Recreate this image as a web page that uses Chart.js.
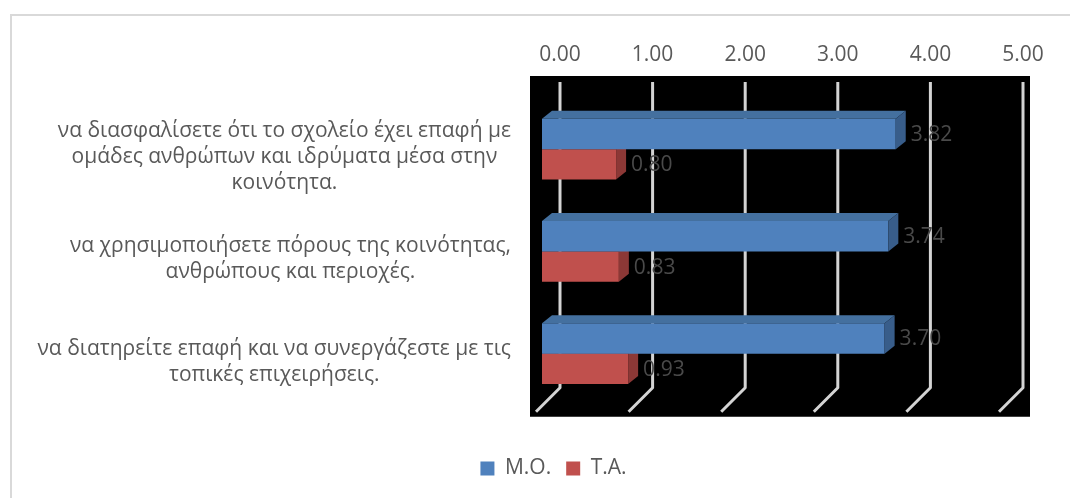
<!DOCTYPE html>
<html>
<head>
<meta charset="utf-8">
<script src="https://cdn.jsdelivr.net/npm/chart.js@4.4.0/dist/chart.umd.min.js"></script>
<style>
  html, body { margin: 0; padding: 0; background: #fff; overflow: hidden; }
  #frame { position: absolute; left: 10px; top: 14px; width: 1200px; height: 600px; border: 2px solid #d9d9d9; }
  #wrap { position: absolute; left: 0; top: 0; width: 1070px; height: 498px; }
</style>
</head>
<body>
<div id="frame"></div>
<div id="wrap"><canvas id="chart"></canvas></div>
<script>
// category labels (one array of lines per category)
const categories = [
    ['να διασφαλίσετε ότι το σχολείο έχει επαφή με', 'ομάδες ανθρώπων και ιδρύματα μέσα στην', 'κοινότητα.'],
    ['να χρησιμοποιήσετε πόρους της κοινότητας,', 'ανθρώπους και περιοχές.'],
    ['να διατηρείτε επαφή και να συνεργάζεστε με τις', 'τοπικές επιχειρήσεις.']
];
const seriesNames = ['Μ.Ο.', 'Τ.Α.'];
const meanValues = [3.82, 3.74, 3.70];
const sdValues = [0.80, 0.83, 0.93];
const xTicks = [0, 1, 2, 3, 4, 5];

const FONT = "'Open Sans', sans-serif";
const TEXT_COLOR = '#595959';
const DEPTH_X = 10, DEPTH_Y = 8;   // 3d bar depth
const WALL_X = 18;                 // back wall offset of the gridlines

const faceColors = [
    { front: '#4F81BD', top: '#44709F', side: '#385D8A' },
    { front: '#C0504D', top: '#A54442', side: '#8C3836' }
];

const bar3d = {
    id: 'bar3d',
    beforeDraw(chart) {
        // black plot area
        const a = chart.chartArea, ctx = chart.ctx;
        ctx.save();
        ctx.fillStyle = '#000';
        ctx.fillRect(a.left - 12, a.top - 22, a.right - a.left + 37, a.bottom - a.top + 34);
        ctx.restore();
    },
    beforeDatasetsDraw(chart) {
        // gridlines on the back wall with a little floor foot
        const a = chart.chartArea, ctx = chart.ctx, xs = chart.scales.x;
        ctx.save();
        ctx.strokeStyle = '#d4d4d4';
        ctx.lineWidth = 3;
        ctx.lineJoin = 'round';
        xTicks.forEach(v => {
            const px = xs.getPixelForValue(v) + WALL_X;
            ctx.beginPath();
            ctx.moveTo(px, a.top - 16);
            ctx.lineTo(px, a.bottom - 17);
            ctx.lineTo(px - 24, a.bottom + 7);
            ctx.stroke();
        });
        ctx.restore();
    },
    afterDatasetDraw(chart, args) {
        const ctx = chart.ctx;
        const col = faceColors[args.index];
        ctx.save();
        args.meta.data.forEach(el => {
            const p = el.getProps(['x', 'y', 'base', 'height'], true);
            const top = p.y - p.height / 2, bottom = p.y + p.height / 2;
            // top face
            ctx.fillStyle = col.top;
            ctx.beginPath();
            ctx.moveTo(p.base, top);
            ctx.lineTo(p.base + DEPTH_X, top - DEPTH_Y);
            ctx.lineTo(p.x + DEPTH_X, top - DEPTH_Y);
            ctx.lineTo(p.x, top);
            ctx.closePath();
            ctx.fill();
            // side face
            ctx.fillStyle = col.side;
            ctx.beginPath();
            ctx.moveTo(p.x, top);
            ctx.lineTo(p.x + DEPTH_X, top - DEPTH_Y);
            ctx.lineTo(p.x + DEPTH_X, bottom - DEPTH_Y);
            ctx.lineTo(p.x, bottom);
            ctx.closePath();
            ctx.fill();
        });
        ctx.restore();
    },
    afterDatasetsDraw(chart) {
        const ctx = chart.ctx;
        ctx.save();
        // value labels
        ctx.font = '21px ' + FONT;
        ctx.fillStyle = '#4a4a4a';
        ctx.textAlign = 'left';
        ctx.textBaseline = 'middle';
        chart.data.datasets.forEach((ds, i) => {
            chart.getDatasetMeta(i).data.forEach((el, j) => {
                const p = el.getProps(['x', 'y'], true);
                ctx.fillText(ds.data[j].toFixed(2), p.x + DEPTH_X + 5, p.y + 1);
            });
        });
        // category labels, lines centred inside a right aligned block
        const ys = chart.scales.y;
        ctx.fillStyle = TEXT_COLOR;
        ctx.textAlign = 'center';
        categories.forEach((lines, i) => {
            const cy = ys.getPixelForTick(i) + 8;
            const maxW = Math.max(...lines.map(l => ctx.measureText(l).width));
            const cx = chart.chartArea.left - 31 - maxW / 2;
            lines.forEach((l, j) => {
                ctx.fillText(l, cx, cy + (j - (lines.length - 1) / 2) * 26);
            });
        });
        ctx.restore();
    }
};

Chart.defaults.font.family = FONT;
Chart.defaults.font.size = 21;
Chart.defaults.color = TEXT_COLOR;

new Chart(document.getElementById('chart'), {
    type: 'bar',
    data: {
        labels: categories,
        datasets: [
            { label: seriesNames[0], data: meanValues, backgroundColor: faceColors[0].front },
            { label: seriesNames[1], data: sdValues, backgroundColor: faceColors[1].front }
        ]
    },
    options: {
        indexAxis: 'y',
        responsive: true,
        maintainAspectRatio: false,
        animation: false,
        layout: { padding: { left: 102, right: 65, top: 0, bottom: 9 } },
        datasets: { bar: { categoryPercentage: 0.595, barPercentage: 1 } },
        plugins: {
            tooltip: { enabled: false },
            legend: {
                position: 'bottom',
                title: { display: true, text: '', font: { size: 10 }, padding: { top: 26.25, bottom: 0 } },
                labels: { boxWidth: 14, boxHeight: 14, padding: 15, color: TEXT_COLOR, font: { size: 21 } }
            }
        },
        scales: {
            x: {
                position: 'top',
                min: 0,
                max: 5,
                afterFit: s => { s.height = 98; },
                afterBuildTicks: s => { s.ticks = xTicks.map(v => ({ value: v })); },
                grid: { display: false, drawTicks: false },
                border: { display: false },
                ticks: {
                    padding: 30,
                    labelOffset: WALL_X,
                    color: TEXT_COLOR,
                    callback: v => Number(v).toFixed(2)
                }
            },
            y: {
                afterFit: s => { s.width = 440; },
                grid: { display: false, drawTicks: false },
                border: { display: false },
                ticks: { display: false }
            }
        }
    },
    plugins: [bar3d]
});
</script>
</body>
</html>
